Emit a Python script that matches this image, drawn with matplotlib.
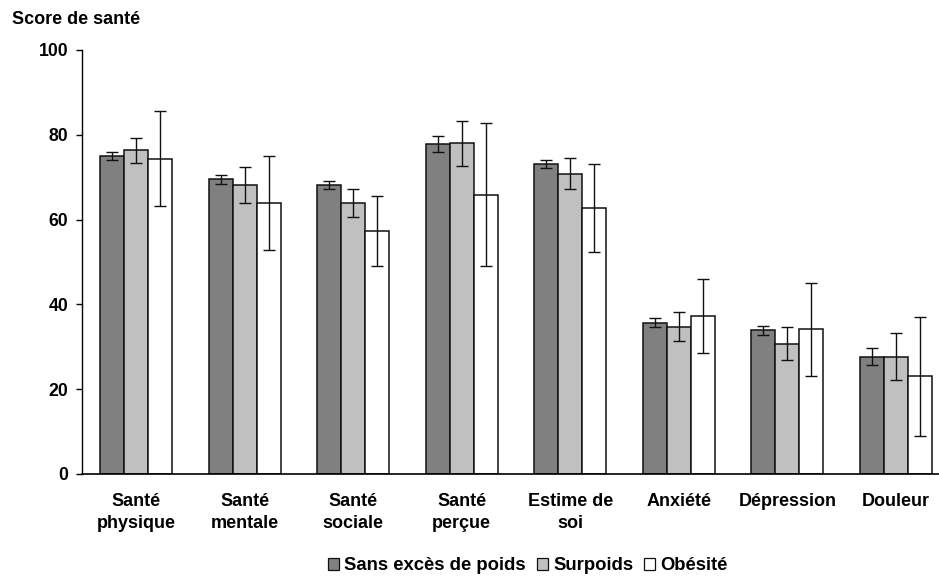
import matplotlib
matplotlib.use("Agg")
import matplotlib.pyplot as plt
import numpy as np
from matplotlib.patches import Patch

plt.rcParams['font.family'] = ['Liberation Sans', 'DejaVu Sans']
plt.rcParams['font.weight'] = 'bold'

categories = ["Santé\nphysique", "Santé\nmentale", "Santé\nsociale", "Santé\nperçue",
              "Estime de\nsoi", "Anxiété", "Dépression", "Douleur"]
series_names = ["Sans excès de poids", "Surpoids", "Obésité"]

normal = [75.0, 69.5, 68.2, 77.8, 73.1, 35.7, 33.9, 27.7]
overweight = [76.3, 68.2, 63.9, 78.0, 70.8, 34.7, 30.7, 27.7]
obese = [74.4, 64.0, 57.3, 65.9, 62.7, 37.3, 34.1, 23.0]

normal_err = [1.0, 1.1, 1.0, 1.8, 1.0, 1.0, 1.1, 1.9]
overweight_err = [3.0, 4.2, 3.3, 5.3, 3.7, 3.4, 3.9, 5.6]
obese_err = [11.1, 11.1, 8.3, 16.9, 10.4, 8.7, 11.0, 14.0]

yticks = [0, 20, 40, 60, 80, 100]

colors = ["#808080", "#C0C0C0", "#FFFFFF"]

fig = plt.figure(figsize=(9.39, 5.77), dpi=100)
W, H = 939, 577
ax_left, ax_right, ax_bottom, ax_top = 82, 939, 474, 50
ax = fig.add_axes([ax_left / W, 1 - ax_bottom / H,
                   (ax_right - ax_left) / W, (ax_bottom - ax_top) / H])

x = np.arange(len(categories))
bw = 2 / 9
values = [normal, overweight, obese]
errors = [normal_err, overweight_err, obese_err]
for i, (vals, errs, col) in enumerate(zip(values, errors, colors)):
    pos = x + (i - 1) * bw
    ax.bar(pos, vals, width=bw, color=col, edgecolor="#111111", linewidth=1.1, zorder=2)
    ax.errorbar(pos, vals, yerr=errs, fmt="none", ecolor="#111111",
                elinewidth=1.0, capsize=4, capthick=1.0, zorder=3)

per_group = 108.5
xmax = 7 + (ax_right - (136.3 + 7 * per_group)) / per_group
ax.set_xlim(-0.5, xmax)
ax.set_ylim(0, 100)
ax.set_yticks(yticks)
ax.set_yticklabels([str(t) for t in yticks], fontsize=12.7, fontweight='bold')
ax.set_xticks(x)
ax.set_xticklabels(categories, fontsize=13, fontweight='bold', linespacing=1.35)
ax.tick_params(axis='x', length=0, pad=14)
ax.tick_params(axis='y', direction='out', length=4.3, width=1, pad=5.5)
for s in ["top", "right"]:
    ax.spines[s].set_visible(False)
ax.spines["left"].set_linewidth(1)
ax.spines["bottom"].set_linewidth(1.2)

fig.text(12 / W, 1 - 19 / H, "Score de santé", fontsize=13, fontweight='bold',
         ha='left', va='center')

handles = [Patch(facecolor=c, edgecolor="#111111", linewidth=0.9) for c in colors]
fig.legend(handles, series_names, loc='center', bbox_to_anchor=(528 / W, 1 - 566 / H),
           ncol=3, frameon=False, handlelength=0.6, handleheight=0.6,
           handletextpad=0.27, columnspacing=0.6, borderpad=0, borderaxespad=0,
           prop={'size': 13.3, 'weight': 'bold'})

fig.savefig("out.png", dpi=100)
